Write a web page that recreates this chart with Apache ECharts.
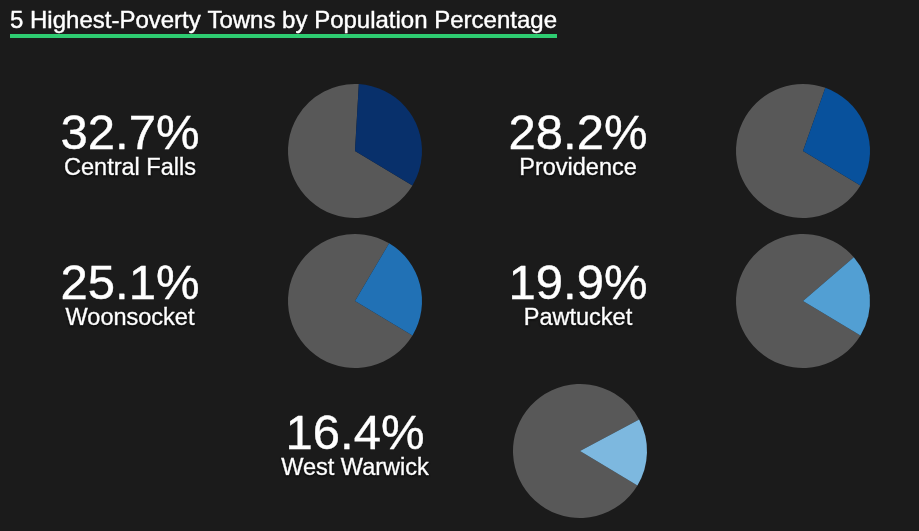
<!DOCTYPE html>
<html>
<head>
<meta charset="utf-8">
<script src="https://cdn.jsdelivr.net/npm/echarts@6/dist/echarts.min.js"></script>
<style>
  html, body { margin: 0; padding: 0; background: #1b1b1b; }
  #chart { width: 919px; height: 531px; }
</style>
</head>
<body>
<div id="chart"></div>
<script>
  // data
  const towns = ['Central Falls', 'Providence', 'Woonsocket', 'Pawtucket', 'West Warwick']
  const povertyPct = [32.7, 28.2, 25.1, 19.9, 16.4]

  // layout + styles
  const pieCenters = [[355, 151], [803, 151], [355, 301], [803, 301], [580, 451]]
  const sliceColors = ['#08306b', '#08519c', '#2171b5', '#529fd3', '#7db8df']
  const restColor = '#585858'
  const fontFamily = '"Liberation Sans", Arial, Helvetica, sans-serif'

  const chart = echarts.init(document.getElementById('chart'), null, { renderer: 'canvas' })

  const series = towns.map((town, i) => ({
    type: 'pie',
    name: town,
    center: pieCenters[i],
    radius: 67,
    startAngle: -31,
    clockwise: true,
    silent: true,
    animation: false,
    label: { show: false },
    labelLine: { show: false },
    itemStyle: { borderWidth: 0 },
    data: [
      { name: 'other', value: +(100 - povertyPct[i]).toFixed(1), itemStyle: { color: restColor } },
      { name: town, value: povertyPct[i], itemStyle: { color: sliceColors[i] } }
    ]
  }))

  const texts = []
  towns.forEach((town, i) => {
    const x = pieCenters[i][0] - 225
    const y = pieCenters[i][1]
    texts.push({
      type: 'text',
      style: {
        text: povertyPct[i].toFixed(1) + '%',
        x: x, y: y - 16,
        fill: '#fff',
        stroke: '#fff',
        lineWidth: 0.4,
        font: '49px ' + fontFamily,
        align: 'center',
        verticalAlign: 'middle'
      }
    })
    texts.push({
      type: 'text',
      style: {
        text: town,
        x: x, y: y + 18,
        fill: '#fff',
        stroke: '#fff',
        lineWidth: 0.5,
        font: '23.5px ' + fontFamily,
        align: 'center',
        verticalAlign: 'middle',
        textShadowColor: 'rgba(0,0,0,0.8)',
        textShadowBlur: 2,
        textShadowOffsetY: 1
      }
    })
  })

  chart.setOption({
    backgroundColor: '#1b1b1b',
    animation: false,
    graphic: [
      {
        type: 'text',
        style: {
          text: '5 Highest-Poverty Towns by Population Percentage',
          x: 10, y: 21,
          fill: '#fff',
          stroke: '#fff',
          lineWidth: 0.4,
          font: '24px ' + fontFamily,
          verticalAlign: 'middle'
        }
      },
      {
        type: 'rect',
        shape: { x: 10, y: 34, width: 547, height: 4 },
        style: { fill: '#2ecc71' }
      }
    ].concat(texts),
    series: series
  })
</script>
</body>
</html>
